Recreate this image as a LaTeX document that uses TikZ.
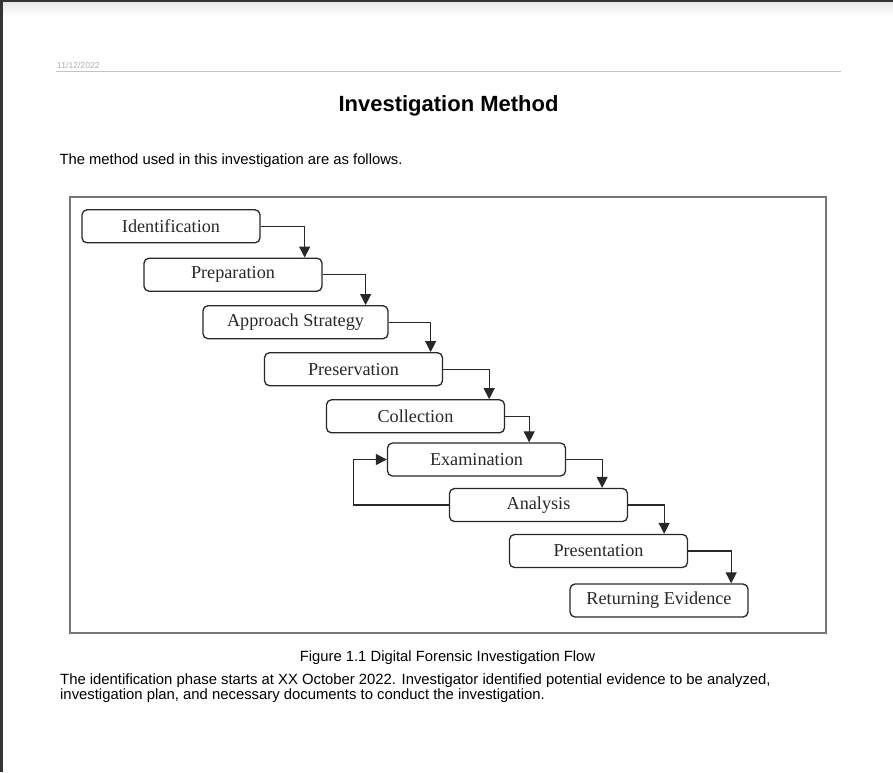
\documentclass[tikz,border=0pt]{standalone}
\usepackage{fontspec}
\setmainfont{Liberation Serif}
\newfontfamily\arialfont{Liberation Sans}
\usetikzlibrary{arrows.meta, positioning, calc}
\definecolor{pageedge}{RGB}{52,52,52}
\definecolor{inkline}{RGB}{40,40,40}
\definecolor{framegray}{RGB}{118,118,118}
\definecolor{rulegray}{RGB}{195,195,195}
\definecolor{dategray}{RGB}{175,175,175}
\tikzset{
  stage/.style={
    rectangle, rounded corners=5pt, draw=inkline, line width=1.3pt,
    fill=white, minimum width=178pt, minimum height=33pt, inner sep=0pt,
    font=\fontsize{18.2}{20}\selectfont, text=inkline
  },
  flow/.style={draw=inkline, line width=1.2pt, -{Triangle[width=11pt,length=11pt]}},
  pagetext/.style={font=\arialfont\fontsize{14.8}{16}\selectfont, anchor=base west, inner sep=0pt},
}
\begin{document}
\begin{tikzpicture}[x=1pt, y=-1pt]
  \useasboundingbox (0,0) rectangle (893,772);
  % page edge and shadow
  \fill[pageedge] (0,0) rectangle (893,2.5);
  \fill[pageedge] (0,0) rectangle (3,772);
  \shade[top color=black!9, bottom color=white] (3,2.5) rectangle (893,16);

  % header
  \node[anchor=base west, inner sep=0pt, text=dategray, font=\arialfont\fontsize{8.6}{10}\selectfont] (date) at (57,68) {11/12/2022};
  \draw[rulegray, line width=1pt] (56,71.7) -- (841,71.7);
  \node[anchor=base, inner sep=0pt, font=\arialfont\bfseries\fontsize{22}{26}\selectfont] (title) at (448.5,111) {Investigation Method};
  \node[pagetext] (intro) at (59.3,164.3) {The method used in this investigation are as follows.};

  % figure frame
  \draw[framegray, line width=1.8pt] (70,197) rectangle (826,633);

  % stages
  \node[stage] (ident) at (171,226.3) {Identification};
  \node[stage] (prep)  at (233,274.7) {Preparation};
  \node[stage, minimum width=185pt] (appr) at (295.5,322.2) {Approach Strategy};
  \node[stage] (pres)  at (353.5,369.2) {Preservation};
  \node[stage] (coll)  at (415.5,416.3) {Collection};
  \node[stage] (exam)  at (476.5,459.5) {Examination};
  \node[stage] (anal)  at (538.5,505) {Analysis};
  \node[stage] (prsn)  at (598.5,551) {Presentation};
  \node[stage] (retn)  at (659,600.5) {Returning Evidence};

  \foreach \a/\b/\off in {ident/prep/44, prep/appr/43, appr/pres/42, pres/coll/46,
                          coll/exam/24, exam/anal/36, anal/prsn/36, prsn/retn/43}
    \draw[flow] (\a.east) -- ++(\off,0) coordinate (turn) -- (turn |- \b.north);
  \draw[flow] (anal.west) -- ++(-95,0) coordinate (back) |- (exam.west);

  % caption and text
  \node[anchor=base, inner sep=0pt, font=\arialfont\fontsize{14.8}{16}\selectfont] (caption) at (447.5,661) {Figure 1.1 Digital Forensic Investigation Flow};
  \node[pagetext, align=left, font=\arialfont\fontsize{14.85}{12.6}\selectfont] (para) at (60,699.3) {The identification phase starts at XX October 2022. Investigator identified potential evidence to be analyzed,\\investigation plan, and necessary documents to conduct the investigation.};
\end{tikzpicture}
\end{document}
